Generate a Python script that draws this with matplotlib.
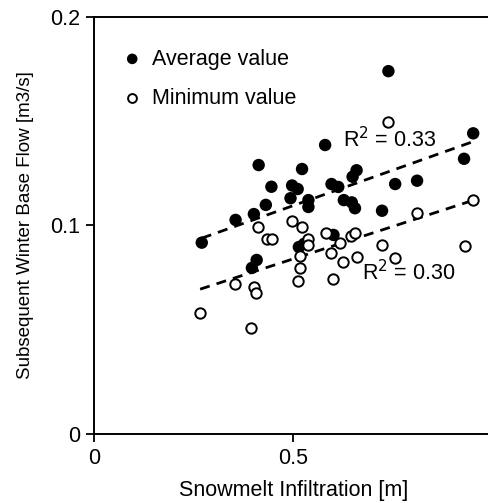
import matplotlib.pyplot as plt
import numpy as np

plt.rcParams['font.family'] = ['Liberation Sans', 'DejaVu Sans']

# snowmelt infiltration [m] and average winter base flow [m3/s]
avg_x = [0.270, 0.355, 0.401, 0.413, 0.431, 0.445, 0.497, 0.511, 0.493, 0.522,
         0.538, 0.538, 0.580, 0.596, 0.613, 0.659, 0.649, 0.627, 0.647, 0.655,
         0.739, 0.756, 0.811, 0.723, 0.929, 0.952, 0.601, 0.514, 0.527, 0.408,
         0.396]
avg_y = [0.0917, 0.1026, 0.1054, 0.1289, 0.1098, 0.1185, 0.1191, 0.1174, 0.1130, 0.1270,
         0.1121, 0.1088, 0.1385, 0.1198, 0.1184, 0.1264, 0.1233, 0.1121, 0.1110, 0.1082,
         0.1739, 0.1198, 0.1214, 0.1070, 0.1319, 0.1441, 0.0954, 0.0896, 0.0911, 0.0834,
         0.0796]

# snowmelt infiltration [m] and minimum winter base flow [m3/s]
min_x = [0.266, 0.354, 0.401, 0.406, 0.395, 0.412, 0.433, 0.446, 0.496, 0.521,
         0.538, 0.538, 0.517, 0.516, 0.513, 0.582, 0.617, 0.596, 0.626, 0.601,
         0.644, 0.655, 0.659, 0.724, 0.756, 0.811, 0.739, 0.931, 0.952]
min_y = [0.0578, 0.0719, 0.0704, 0.0676, 0.0507, 0.0994, 0.0933, 0.0933, 0.1022, 0.0991,
         0.0933, 0.0906, 0.0853, 0.0794, 0.0733, 0.0962, 0.0914, 0.0866, 0.0826, 0.0744,
         0.0949, 0.0962, 0.0848, 0.0908, 0.0842, 0.1058, 0.1497, 0.0901, 0.1121]

r2_avg = 0.33
r2_min = 0.30

fs = 15.5

fig = plt.figure(figsize=(4.88, 5.03), dpi=100)
ax = fig.add_axes([0.1932, 0.1372, 0.8156, 0.8296])

ax.scatter(avg_x, avg_y, s=80, c='black', edgecolors='none', zorder=3,
           label='Average value')
ax.scatter(min_x, min_y, s=56, facecolors='white', edgecolors='black',
           linewidths=1.4, zorder=3, label='Minimum value')

# linear trend lines over the range of the data
for xs, ys in ((avg_x, avg_y), (min_x, min_y)):
    xs = np.asarray(xs)
    k, d = np.polyfit(xs, ys, 1)
    xl = np.array([xs.min(), xs.max()])
    ax.plot(xl, k * xl + d, color='black', lw=2, ls=(0, (3.6, 2.6)), zorder=2)

ax.text(0.625, 0.141, f'R$^2$ = {r2_avg:.2f}', fontsize=fs, ha='left', va='center')
ax.text(0.672, 0.0775, f'R$^2$ = {r2_min:.2f}', fontsize=fs, ha='left', va='center')

ax.set_xlim(0, 1)
ax.set_ylim(0, 0.2)
ax.set_xticks([0, 0.5, 1])
ax.set_xticklabels(['0', '0.5', '1'])
ax.set_yticks([0, 0.1, 0.2])
ax.set_yticklabels(['0', '0.1', '0.2'])
ax.tick_params(direction='out', length=6, width=1.3, labelsize=fs, pad=4)
for side in ('left', 'bottom', 'top'):
    ax.spines[side].set_linewidth(1.4)
ax.spines['right'].set_visible(False)

ax.set_xlabel('Snowmelt Infiltration [m]', fontsize=fs, labelpad=8)
ax.set_ylabel('Subsequent Winter Base Flow [m3/s]', fontsize=13.5, labelpad=12)

ax.legend(loc='upper left', bbox_to_anchor=(0.025, 0.965), frameon=False,
          fontsize=fs, handlelength=1.0, handletextpad=0.4, labelspacing=0.85,
          borderpad=0.3, markerscale=0.85)

fig.savefig('out.png', dpi=100)
